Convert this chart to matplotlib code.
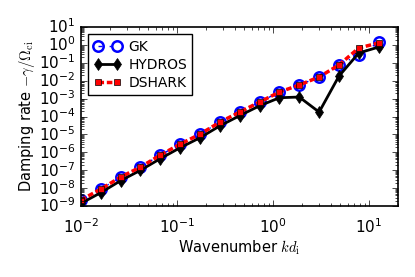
import numpy as np
import matplotlib
matplotlib.use("Agg")
import matplotlib.pyplot as plt
from matplotlib.ticker import LogLocator

plt.style.use('classic')
plt.rcParams['mathtext.fontset'] = 'cm'
plt.rcParams['font.size'] = 10
plt.rcParams['figure.facecolor'] = 'white'
plt.rcParams['savefig.facecolor'] = 'white'

kd = [0.0100, 0.0161, 0.0259, 0.0417, 0.0671, 0.108, 0.174, 0.280,
      0.450, 0.724, 1.166, 1.875, 3.02, 4.86, 7.82, 12.6]
log_gk = [-8.66, -8.05, -7.38, -6.82, -6.15, -5.54, -4.98, -4.31,
          -3.75, -3.19, -2.63, -2.24, -1.79, -1.12, -0.56, 0.14]
log_hydros = [-8.85, -8.25, -7.58, -7.00, -6.35, -5.74, -5.18, -4.52,
              -3.95, -3.40, -2.95, -2.91, -3.75, -1.74, -0.45, -0.12]
log_dshark = [-8.66, -8.05, -7.38, -6.82, -6.15, -5.54, -4.98, -4.31,
              -3.75, -3.19, -2.63, -2.24, -1.79, -1.12, -0.17, 0.11]

gk = 10 ** np.array(log_gk)
hydros = 10 ** np.array(log_hydros)
dshark = 10 ** np.array(log_dshark)

fig = plt.figure(figsize=(4.15, 2.77), dpi=100)
ax = fig.add_axes([0.195, 0.256, 0.764, 0.6465])

ax.plot(kd, gk, '-.', color='blue', lw=1.0, marker='o', ms=7.5,
        mfc='none', mec='blue', mew=1.8, label='GK')
ax.plot(kd, hydros, '-', color='black', lw=2.0, marker='d', ms=6.5,
        mfc='black', mec='black', label='HYDROS')
ax.plot(kd, dshark, '--', color='red', lw=2.5, marker='s', ms=4.8,
        mfc='red', mec='black', mew=0.5, dashes=(4, 2), label='DSHARK')

ax.set_xscale('log')
ax.set_yscale('log')
ax.set_xlim(1e-2, 20)
ax.set_ylim(1e-9, 1e1)
ax.yaxis.set_major_locator(LogLocator(base=10, numticks=20))
ax.yaxis.set_minor_locator(LogLocator(base=10, subs=np.arange(2, 10), numticks=20))
ax.set_xlabel(r'Wavenumber $kd_{\rm i}$', fontsize=10.5, labelpad=2)
ax.set_ylabel(r'Damping rate $-\gamma/\Omega_{\rm ci}$', fontsize=10.5, labelpad=1)
ax.tick_params(labelsize=11)
ax.tick_params(axis='x', which='major', pad=8)
for s in ax.spines.values():
    s.set_linewidth(1.2)

leg = ax.legend(loc='upper left', numpoints=2, fontsize=10, fancybox=False,
                borderpad=0.4, labelspacing=0.3, handlelength=2.0,
                handletextpad=0.5, borderaxespad=0.5)
leg.get_frame().set_linewidth(1.0)

fig.savefig('out.png', dpi=100)
